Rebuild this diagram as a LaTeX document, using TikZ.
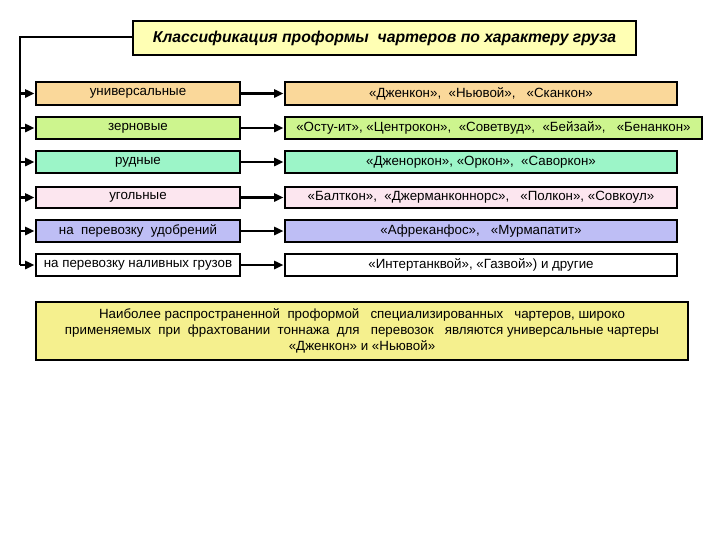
\documentclass[tikz,border=0pt]{standalone}
\usepackage{fontspec}
\setmainfont{Liberation Sans}
\usetikzlibrary{arrows.meta}
\definecolor{cOr}{HTML}{FAD89A}
\definecolor{cGr}{HTML}{CDF58E}
\definecolor{cMi}{HTML}{9CF5C8}
\definecolor{cPi}{HTML}{FCE6EF}
\definecolor{cLa}{HTML}{BEBEF5}
\definecolor{cTi}{HTML}{FFFFB4}
\definecolor{cYe}{HTML}{F5F08E}
\begin{document}
\begin{tikzpicture}[x=0.75pt,y=-0.75pt,
  bx/.style={draw=black,line width=2.2pt,inner sep=0pt},
  tx/.style={font=\fontsize{10}{12}\selectfont,inner sep=0pt},
  ar/.style={line width=2.2pt,-{Triangle[length=7pt,width=6pt]}}]
\useasboundingbox (0,0) rectangle (720,540);
\newcommand\bxat[6]{\node[bx,fill=#6,minimum width={(#4-#2)*0.75pt},minimum height={(#5-#3)*0.75pt}] (#1) at ({(#2+#4)/2},{(#3+#5)/2}) {};}
\bxat{t}{133}{21}{636}{55}{cTi}
\node at (t.center) {\fontsize{11.8}{13}\selectfont\bfseries\itshape Классификация проформы\ \ чартеров по характеру груза};
% left boxes
\bxat{l1}{36}{82}{240}{105}{cOr}
\bxat{l2}{36}{117}{240}{139}{cGr}
\bxat{l3}{36}{151}{240}{173}{cMi}
\bxat{l4}{36}{187}{240}{208}{cPi}
\bxat{l5}{36}{220}{240}{242}{cLa}
\bxat{l6}{36}{254}{240}{276}{white}
\node[tx] at (l1.center) {универсальные};
\node[tx] at (l2.center) {зерновые};
\node[tx] at (l3.center) {рудные};
\node[tx] at (l4.center) {угольные};
\node[tx] at (l5.center) {на\ \ перевозку\ \ удобрений};
\node[tx] at (l6.center) {на перевозку наливных грузов};
% right boxes
\bxat{r1}{285}{82}{677}{105}{cOr}
\bxat{r2}{285}{117}{702}{139}{cGr}
\bxat{r3}{285}{151}{677}{173}{cMi}
\bxat{r4}{285}{187}{677}{208}{cPi}
\bxat{r5}{285}{220}{677}{242}{cLa}
\bxat{r6}{285}{254}{677}{276}{white}
\node[tx] at (r1.center) {«Дженкон»,\ \ «Ньювой»,\ \ \ «Сканкон»};
\node[tx] at (r2.center) {«Осту-ит», «Центрокон»,\ \ «Советвуд»,\ \ «Бейзай»,\ \ \ «Бенанкон»};
\node[tx] at (r3.center) {«Дженоркон», «Оркон»,\ \ «Саворкон»};
\node[tx] at (r4.center) {«Балткон»,\ \ «Джерманконнорс»,\ \ \ «Полкон», «Совкоул»};
\node[tx] at (r5.center) {«Афреканфос»,\ \ \ «Мурмапатит»};
\node[tx] at (r6.center) {«Интертанквой», «Газвой») и другие};
% trunk
\coordinate (tr) at (20,37);
\coordinate (tb) at (20,265);
\draw[line width=2.2pt] (t.west|-tr) -- (tr) -- (tb);
\foreach \i in {1,...,6}{
  \draw[ar] (tr|-l\i.west) -- (l\i.west);
  \draw[ar] (l\i.east) -- (r\i.west|-l\i.east);
}
% bottom note
\bxat{n}{36}{302}{688}{360}{cYe}
\node[tx,align=center,font=\fontsize{10}{12}\selectfont] at (n.center) {Наиболее распространенной\ \ проформой\ \ \ специализированных\ \ \ чартеров, широко\\
применяемых\ \ при\ \ фрахтовании\ \ тоннажа\ \ для\ \ \ перевозок\ \ \ являются универсальные чартеры\\
«Дженкон» и «Ньювой»};
\end{tikzpicture}
\end{document}
